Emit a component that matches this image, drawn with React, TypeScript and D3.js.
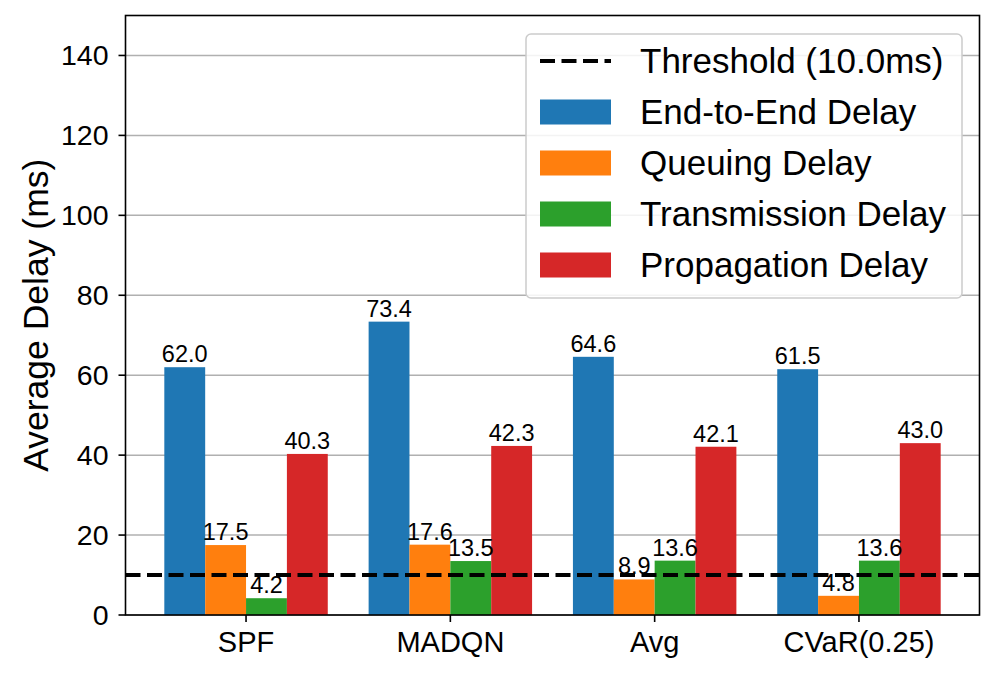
import React, { useEffect, useRef } from 'react';
import * as d3 from 'd3';

// methods on the x axis
const methods = ['SPF', 'MADQN', 'Avg', 'CVaR(0.25)'];

// delay series (ms), one value per method
const endToEnd = [62.0, 73.4, 64.6, 61.5];
const queuing = [17.5, 17.6, 8.9, 4.8];
const transmission = [4.2, 13.5, 13.6, 13.6];
const propagation = [40.3, 42.3, 42.1, 43.0];

const seriesNames = ['End-to-End Delay', 'Queuing Delay', 'Transmission Delay', 'Propagation Delay'];
const seriesColors = ['#1f77b4', '#ff7f0e', '#2ca02c', '#d62728'];

const yTicks = [0, 20, 40, 60, 80, 100, 120, 140];
const threshold = 10.0;

const FONT = '"Liberation Sans", Arial, Helvetica, sans-serif';

const App = () => {
    const svgRef = useRef<SVGSVGElement>(null);

    useEffect(() => {
        document.body.style.margin = '0';
        const svg = d3.select(svgRef.current);
        svg.selectAll('*').remove();

        const W = 996, H = 676;
        const margin = { top: 15.5, right: 16.5, bottom: 61, left: 125.5 };
        const width = W - margin.left - margin.right;
        const height = H - margin.top - margin.bottom;

        svg.attr('width', W).attr('height', H);

        const g = svg.append('g')
            .attr('transform', `translate(${margin.left},${margin.top})`);

        const series = [endToEnd, queuing, transmission, propagation];
        const barW = 0.2;

        //x scale on category index, with matplotlib-like padding
        const xScale = d3.scaleLinear()
            .domain([-0.59, methods.length - 1 + 0.59])
            .range([0, width]);

        const yScale = d3.scaleLinear()
            .domain([0, 150])
            .range([height, 0]);

        //grid
        g.selectAll('.grid')
            .data(yTicks)
            .enter().append('line')
            .attr('x1', 0)
            .attr('x2', width)
            .attr('y1', d => yScale(d))
            .attr('y2', d => yScale(d))
            .attr('stroke', '#b0b0b0')
            .attr('stroke-width', 1.5);

        //bars
        series.forEach((vals, si) => {
            const offset = (si - 1.5) * barW;
            g.selectAll(`.bar${si}`)
                .data(vals)
                .enter().append('rect')
                .attr('x', (d, i) => xScale(i + offset - barW / 2))
                .attr('width', xScale(barW) - xScale(0))
                .attr('y', d => yScale(d))
                .attr('height', d => height - yScale(d))
                .attr('fill', seriesColors[si]);
        });

        //threshold line
        g.append('line')
            .attr('x1', 0)
            .attr('x2', width)
            .attr('y1', yScale(threshold))
            .attr('y2', yScale(threshold))
            .attr('stroke', '#000')
            .attr('stroke-width', 4)
            .attr('stroke-dasharray', '15,6.5');

        //bar labels
        series.forEach((vals, si) => {
            const offset = (si - 1.5) * barW;
            g.selectAll(`.lbl${si}`)
                .data(vals)
                .enter().append('text')
                .attr('x', (d, i) => xScale(i + offset))
                .attr('y', d => yScale(d) - 5)
                .attr('text-anchor', 'middle')
                .attr('font-family', FONT)
                .attr('font-size', '23.5px')
                .attr('fill', '#000')
                .text(d => d.toFixed(1));
        });

        //frame
        g.append('rect')
            .attr('width', width)
            .attr('height', height)
            .attr('fill', 'none')
            .attr('stroke', '#000')
            .attr('stroke-width', 1.6);

        //y ticks
        const yt = g.selectAll('.ytick')
            .data(yTicks)
            .enter().append('g')
            .attr('transform', d => `translate(0,${yScale(d)})`);
        yt.append('line')
            .attr('x1', -7).attr('x2', 0)
            .attr('stroke', '#000').attr('stroke-width', 1.6);
        yt.append('text')
            .attr('x', -17)
            .attr('y', 10)
            .attr('text-anchor', 'end')
            .attr('font-family', FONT)
            .attr('font-size', '28.5px')
            .text(d => d);

        //x ticks
        const xt = g.selectAll('.xtick')
            .data(methods)
            .enter().append('g')
            .attr('transform', (d, i) => `translate(${xScale(i)},${height})`);
        xt.append('line')
            .attr('y1', 0).attr('y2', 7)
            .attr('stroke', '#000').attr('stroke-width', 1.6);
        xt.append('text')
            .attr('y', 37)
            .attr('text-anchor', 'middle')
            .attr('font-family', FONT)
            .attr('font-size', '29px')
            .text(d => d);

        //y axis label
        svg.append('text')
            .attr('transform', `translate(48,${margin.top + height / 2}) rotate(-90)`)
            .attr('text-anchor', 'middle')
            .attr('font-family', FONT)
            .attr('font-size', '35.5px')
            .text('Average Delay (ms)');

        //legend
        const legend = svg.append('g');
        legend.append('rect')
            .attr('x', 526).attr('y', 34)
            .attr('width', 436).attr('height', 264)
            .attr('rx', 5)
            .attr('fill', '#fff').attr('fill-opacity', 0.85)
            .attr('stroke', '#cccccc').attr('stroke-width', 1.5);

        const rowY = (i: number) => 61 + i * 51;
        legend.append('line')
            .attr('x1', 540).attr('x2', 611)
            .attr('y1', rowY(0)).attr('y2', rowY(0))
            .attr('stroke', '#000').attr('stroke-width', 4)
            .attr('stroke-dasharray', '15,6.5');
        legend.append('text')
            .attr('x', 640).attr('y', rowY(0) + 12)
            .attr('font-family', FONT).attr('font-size', '35px')
            .text(`Threshold (${threshold.toFixed(1)}ms)`);

        seriesNames.forEach((name, i) => {
            legend.append('rect')
                .attr('x', 540).attr('y', rowY(i + 1) - 12.5)
                .attr('width', 71).attr('height', 25)
                .attr('fill', seriesColors[i]);
            legend.append('text')
                .attr('x', 640).attr('y', rowY(i + 1) + 12)
                .attr('font-family', FONT).attr('font-size', '35px')
                .text(name);
        });
    }, []);

    return <svg ref={svgRef} style={{ display: 'block', background: '#fff' }}></svg>;
};

export default App;
